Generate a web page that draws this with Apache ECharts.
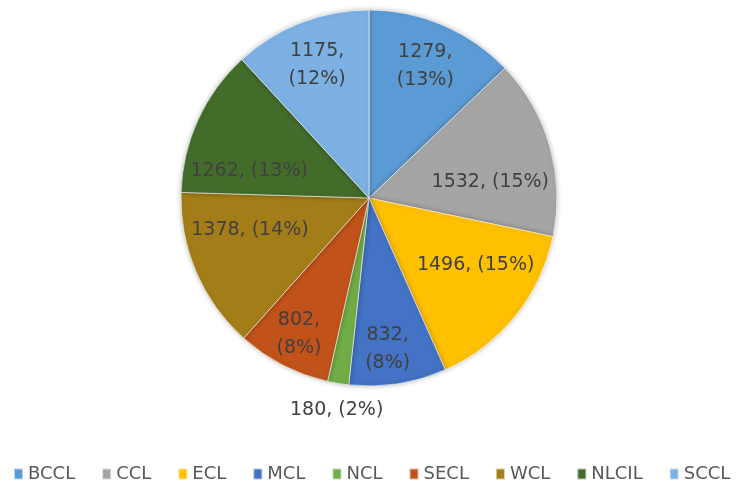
<!DOCTYPE html>
<html>
<head>
<meta charset="utf-8">
<script src="https://cdn.jsdelivr.net/npm/echarts@6/dist/echarts.min.js"></script>
<style>
html,body{margin:0;padding:0;background:#fff;}
#chart{width:737px;height:484px;}
</style>
</head>
<body>
<div id="chart"></div>
<script>
const categories = ['BCCL', 'CCL', 'ECL', 'MCL', 'NCL', 'SECL', 'WCL', 'NLCIL', 'SCCL'];
const values = [1279, 1532, 1496, 832, 180, 802, 1378, 1262, 1175];
const colors = ['#5B9BD5', '#A5A5A5', '#FFC000', '#4472C4', '#70AD47', '#C0521A', '#A37D18', '#436C2B', '#7DB1E3'];

const CENTER = [369, 198];
const R = 188;
const FONT = 'DejaVu Sans';

// label groups: which slices get which label layout
const labelGroups = [
  { names: ['CCL', 'ECL', 'WCL', 'NLCIL'], radius: 240, fmt: '{c}, ({d}%)' },
  { names: ['BCCL', 'SCCL'], radius: 280, fmt: '{c},\n({d}%)' },
  { names: ['MCL', 'SECL'], radius: 300, fmt: '{c},\n({d}%)' },
  { names: ['NCL'], radius: 424, fmt: '{c}, ({d}%)' }
];
const labelNudge = { CCL: [3, 18], ECL: [11, -10], WCL: [-6, -17], NLCIL: [-8, 24], MCL: [-5, 0], NCL: [3, 0] };

const visible = {
  type: 'pie',
  center: CENTER,
  radius: R,
  startAngle: 90,
  clockwise: true,
  avoidLabelOverlap: false,
  label: { show: false },
  labelLine: { show: false },
  itemStyle: { borderColor: 'rgba(255,255,255,0.6)', borderWidth: 1, shadowBlur: 5, shadowColor: 'rgba(0,0,0,0.25)' },
  emphasis: { disabled: true },
  data: categories.map((n, i) => ({ name: n, value: values[i], itemStyle: { color: colors[i] } }))
};

const overlays = labelGroups.map(g => ({
  type: 'pie',
  center: CENTER,
  radius: g.radius,
  startAngle: 90,
  clockwise: true,
  silent: true,
  percentPrecision: 0,
  avoidLabelOverlap: false,
  z: 5,
  itemStyle: { color: 'transparent', borderWidth: 0 },
  labelLine: { show: false },
  emphasis: { disabled: true },
  data: categories.map((n, i) => ({
    name: n,
    value: values[i],
    label: {
      show: g.names.indexOf(n) >= 0,
      position: 'inside',
      formatter: g.fmt,
      color: '#404040',
      fontFamily: FONT,
      fontSize: 19,
      lineHeight: 28,
      offset: labelNudge[n] || [0, 0]
    }
  }))
}));

const chart = echarts.init(document.getElementById('chart'), null, { renderer: 'canvas' });
chart.setOption({
  backgroundColor: '#ffffff',
  animation: false,
  legend: {
    data: categories,
    left: 13,
    right: 0,
    top: 465,
    padding: 0,
    icon: 'rect',
    itemWidth: 9,
    itemHeight: 11,
    itemGap: 26,
    selectedMode: false,
    textStyle: { color: '#595959', fontFamily: FONT, fontSize: 18 }
  },
  series: [visible].concat(overlays)
});
</script>
</body>
</html>
